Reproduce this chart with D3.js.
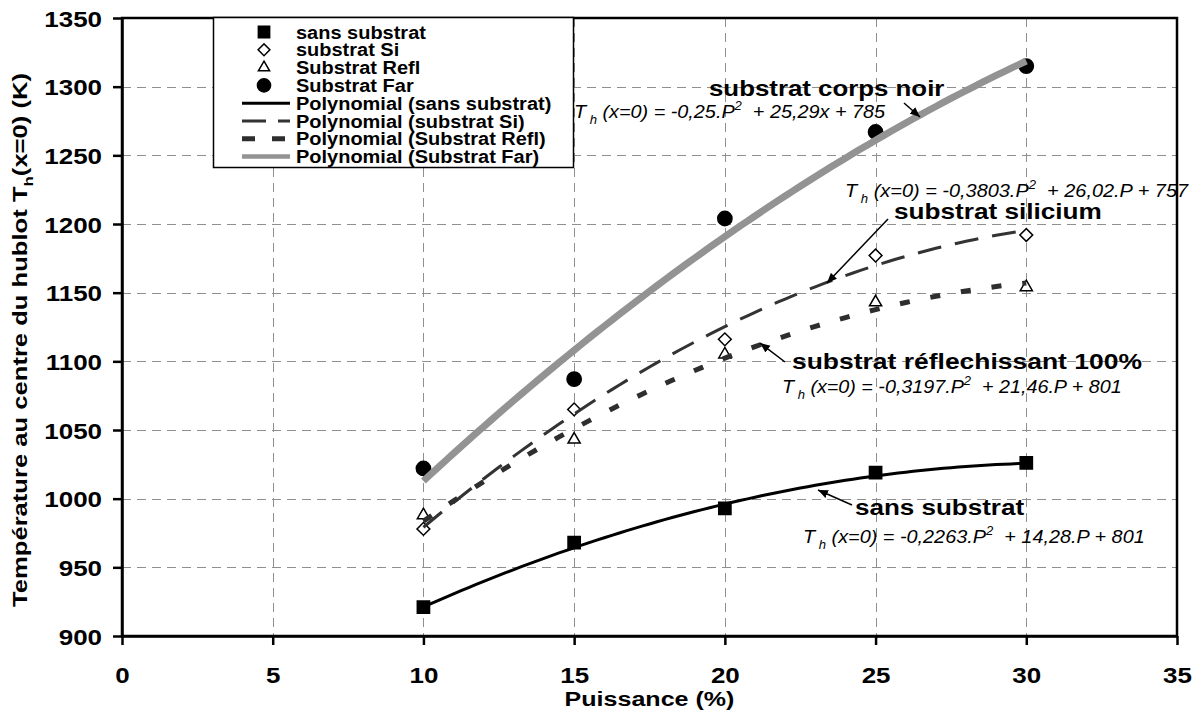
<!DOCTYPE html>
<html>
<head>
<meta charset="utf-8">
<script src="https://cdn.jsdelivr.net/npm/d3@7"></script>
<style>
  html, body { margin: 0; padding: 0; background: #fff; }
  svg { display: block; }
</style>
</head>
<body>
<svg id="chart" width="1201" height="722"></svg>
<script>
// Measured window temperature (K) against heating power (%)
const power = [10, 15, 20, 25, 30];
const sansSubstrat = [921, 968, 993, 1019, 1026];
const substratSi = [978, 1065, 1116, 1177, 1192];
const substratRefl = [988, 1043, 1105, 1143, 1154];
const substratFar = [1022, 1087, 1204, 1267, 1315];

// Second-order trend coefficients [a, b, c] : T = a.P² + b.P + c
const fitSans = [-0.2263, 14.28, 801];
const fitSi = [-0.3803, 26.02, 757];
const fitRefl = [-0.3197, 21.46, 801];
const fitFar = [-0.25, 25.29, 785];

const xTicks = [0, 5, 10, 15, 20, 25, 30, 35];
const yTicks = [900, 950, 1000, 1050, 1100, 1150, 1200, 1250, 1300, 1350];

const legendLabels = [
  "sans substrat", "substrat Si", "Substrat Refl", "Substrat Far",
  "Polynomial (sans substrat)", "Polynomial (substrat Si)",
  "Polynomial (Substrat Refl)", "Polynomial (Substrat Far)"
];

const FONT = '"Liberation Sans", Arial, Helvetica, sans-serif';
const svg = d3.select("#chart");

const x = d3.scaleLinear().domain([0, 35]).range([122, 1177]);
const y = d3.scaleLinear().domain([900, 1350]).range([636, 18]);

// Text helper: builds tspans (sub/superscripts) and stretches horizontally
function addText(parent, opt, parts) {
  const t = parent.append("text")
    .attr("font-family", FONT)
    .attr("font-size", opt.size)
    .attr("font-weight", opt.weight || "bold")
    .attr("font-style", opt.italic ? "italic" : "normal")
    .attr("text-anchor", opt.anchor || "start")
    .attr("fill", "#000")
    .style("white-space", "pre");
  let shift = 0;
  parts.forEach(p => {
    const s = typeof p === "string" ? { t: p } : p;
    const target = s.sub ? opt.size * 0.32 : s.sup ? -opt.size * 0.42 : 0;
    const ts = t.append("tspan").text(s.t).attr("dy", target - shift);
    if (s.sub || s.sup) ts.attr("font-size", opt.size * 0.66);
    shift = target;
  });
  const natural = t.node().getBBox().width;
  const sx = opt.width ? opt.width / natural : (opt.sx || 1);
  t.attr("transform",
    `translate(${opt.x},${opt.y})` + (opt.rotate ? ` rotate(${opt.rotate})` : "") + ` scale(${sx},1)`);
  return t;
}

// Grid
const grid = svg.append("g").attr("stroke", "#8f8f8f").attr("stroke-width", 1)
  .attr("stroke-dasharray", "9,6");
grid.selectAll("line.v").data(xTicks.filter(d => d > 0 && d < 35)).join("line")
  .attr("class", "v")
  .attr("x1", d => Math.round(x(d)) + 0.5).attr("x2", d => Math.round(x(d)) + 0.5)
  .attr("y1", y(1350)).attr("y2", y(900));
grid.selectAll("line.h").data(yTicks.filter(d => d > 900 && d < 1350)).join("line")
  .attr("class", "h")
  .attr("y1", d => Math.round(y(d)) + 0.5).attr("y2", d => Math.round(y(d)) + 0.5)
  .attr("x1", x(0)).attr("x2", x(35));

// Axes
const xAxis = svg.append("g").attr("transform", `translate(0,${y(900)})`)
  .call(d3.axisBottom(x).tickValues(xTicks).tickSize(9).tickSizeOuter(0));
const yAxis = svg.append("g").attr("transform", `translate(${x(0)},0)`)
  .call(d3.axisLeft(y).tickValues(yTicks).tickSize(9).tickSizeOuter(0));
[xAxis, yAxis].forEach(a => {
  a.select(".domain").attr("stroke", "#000").attr("stroke-width", 2.5);
  a.selectAll(".tick line").attr("stroke", "#000").attr("stroke-width", 2.5);
  a.selectAll(".tick text").remove();
});
xAxis.selectAll(".tick").each(function (d) {
  addText(d3.select(this), { x: 0, y: 47, size: 22, anchor: "middle", sx: 1.18 }, [String(d)]);
});
yAxis.selectAll(".tick").each(function (d) {
  addText(d3.select(this), { x: -20, y: 8, size: 22, anchor: "end", sx: 1.18 }, [String(d)]);
});

// Plot frame
svg.append("rect")
  .attr("x", x(0)).attr("y", y(1350))
  .attr("width", x(35) - x(0)).attr("height", y(900) - y(1350))
  .attr("fill", "none").attr("stroke", "#000").attr("stroke-width", 2.5);

// Axis titles
addText(svg, { x: 649.5, y: 706, size: 21, anchor: "middle", width: 170 }, ["Puissance (%)"]);
addText(svg, { x: 27, y: 340, size: 20, anchor: "middle", rotate: -90, width: 534 },
  ["Température au centre du hublot T", { t: "h", sub: true }, "(x=0) (K)"]);

// Series definitions
const series = [
  { values: sansSubstrat, fit: fitSans, symbol: d3.symbolSquare, size: 150, rot: 0, fill: "#000",
    line: { stroke: "#000", width: 3, dash: null }, legendDash: null },
  { values: substratSi, fit: fitSi, symbol: d3.symbolSquare, size: 82, rot: 45, fill: "#fff",
    line: { stroke: "#333", width: 3, dash: "24,14" }, legendDash: "24,12" },
  { values: substratRefl, fit: fitRefl, symbol: d3.symbolTriangle, size: 64, rot: 0, fill: "#fff",
    line: { stroke: "#2e2e2e", width: 5, dash: "10,21" }, legendDash: "13,17" },
  { values: substratFar, fit: fitFar, symbol: d3.symbolCircle, size: 160, rot: 0, fill: "#000",
    line: { stroke: "#939393", width: 7, dash: null }, legendDash: null }
];

// Markers
series.forEach(s => {
  svg.append("g").selectAll("path").data(power.map((p, i) => [p, s.values[i]])).join("path")
    .attr("d", d3.symbol().type(s.symbol).size(s.size))
    .attr("transform", d => `translate(${x(d[0])},${y(d[1])}) rotate(${s.rot})`)
    .attr("fill", s.fill).attr("stroke", "#000").attr("stroke-width", 1.5);
});

// Polynomial trend curves drawn from their stated coefficients
const pRange = d3.range(10, 30.001, 0.25);
const lineGen = d3.line().x(d => x(d[0])).y(d => y(d[1])).curve(d3.curveLinear);
series.forEach(s => {
  const pts = pRange.map(p => [p, s.fit[0] * p * p + s.fit[1] * p + s.fit[2]]);
  svg.append("path").datum(pts).attr("d", lineGen)
    .attr("fill", "none").attr("stroke", s.line.stroke).attr("stroke-width", s.line.width)
    .attr("stroke-dasharray", s.line.dash);
});

// Legend
const lg = svg.append("g");
lg.append("rect").attr("x", 213.5).attr("y", 17.5).attr("width", 360).attr("height", 150)
  .attr("fill", "#fff").attr("stroke", "#000").attr("stroke-width", 1.5);
legendLabels.forEach((lab, i) => {
  const cy = 32 + i * 17.8;
  if (i < 4) {
    const s = series[i];
    lg.append("path")
      .attr("d", d3.symbol().type(s.symbol).size(s.size * 0.85))
      .attr("transform", `translate(264,${cy}) rotate(${s.rot})`)
      .attr("fill", s.fill).attr("stroke", "#000").attr("stroke-width", 1.5);
  } else {
    const s = series[i - 4];
    lg.append("line").attr("x1", 242).attr("x2", 290).attr("y1", cy).attr("y2", cy)
      .attr("stroke", s.line.stroke)
      .attr("stroke-width", i === 7 ? 4.5 : i === 6 ? 5 : 3)
      .attr("stroke-dasharray", s.legendDash);
  }
  addText(lg, { x: 296, y: cy + 6.5, size: 18.5, sx: 1.08 }, [lab]);
});

// Arrow annotations
svg.append("defs").append("marker")
  .attr("id", "arrowHead").attr("viewBox", "0 -5 10 10")
  .attr("refX", 10).attr("refY", 0)
  .attr("markerWidth", 10).attr("markerHeight", 10)
  .attr("markerUnits", "userSpaceOnUse").attr("orient", "auto")
  .append("path").attr("d", "M0,-4.2L10,0L0,4.2Z").attr("fill", "#000");

const arrows = [
  [[904, 103], [920, 117]],
  [[888, 219], [827, 283]],
  [[785, 362], [760, 343]],
  [[852, 505], [818, 490]]
];
svg.append("g").selectAll("line").data(arrows).join("line")
  .attr("x1", d => d[0][0]).attr("y1", d => d[0][1])
  .attr("x2", d => d[1][0]).attr("y2", d => d[1][1])
  .attr("stroke", "#000").attr("stroke-width", 1.5)
  .attr("marker-end", "url(#arrowHead)");

// Curve labels and fitted equations
const ann = svg.append("g");
addText(ann, { x: 709, y: 95.5, size: 22, width: 236 }, ["substrat corps noir"]);
addText(ann, { x: 574, y: 118, size: 18.5, weight: "normal", italic: true, width: 312 },
  ["T", { t: " h", sub: true }, " (x=0) = -0,25.P", { t: "2", sup: true }, "  + 25,29x + 785"]);
addText(ann, { x: 845, y: 197, size: 18.5, weight: "normal", italic: true, width: 344 },
  ["T", { t: " h", sub: true }, " (x=0) = -0,3803.P", { t: "2", sup: true }, "  + 26,02.P + 757"]);
addText(ann, { x: 894, y: 218.5, size: 22, width: 208 }, ["substrat silicium"]);
addText(ann, { x: 792, y: 369, size: 22, width: 350 }, ["substrat réflechissant 100%"]);
addText(ann, { x: 782, y: 393, size: 18.5, weight: "normal", italic: true, width: 340 },
  ["T", { t: " h", sub: true }, " (x=0) = -0,3197.P", { t: "2", sup: true }, "  + 21,46.P + 801"]);
addText(ann, { x: 855, y: 515, size: 22, width: 170 }, ["sans substrat"]);
addText(ann, { x: 803, y: 543, size: 18.5, weight: "normal", italic: true, width: 342 },
  ["T", { t: " h", sub: true }, " (x=0) = -0,2263.P", { t: "2", sup: true }, "  + 14,28.P + 801"]);
</script>
</body>
</html>
